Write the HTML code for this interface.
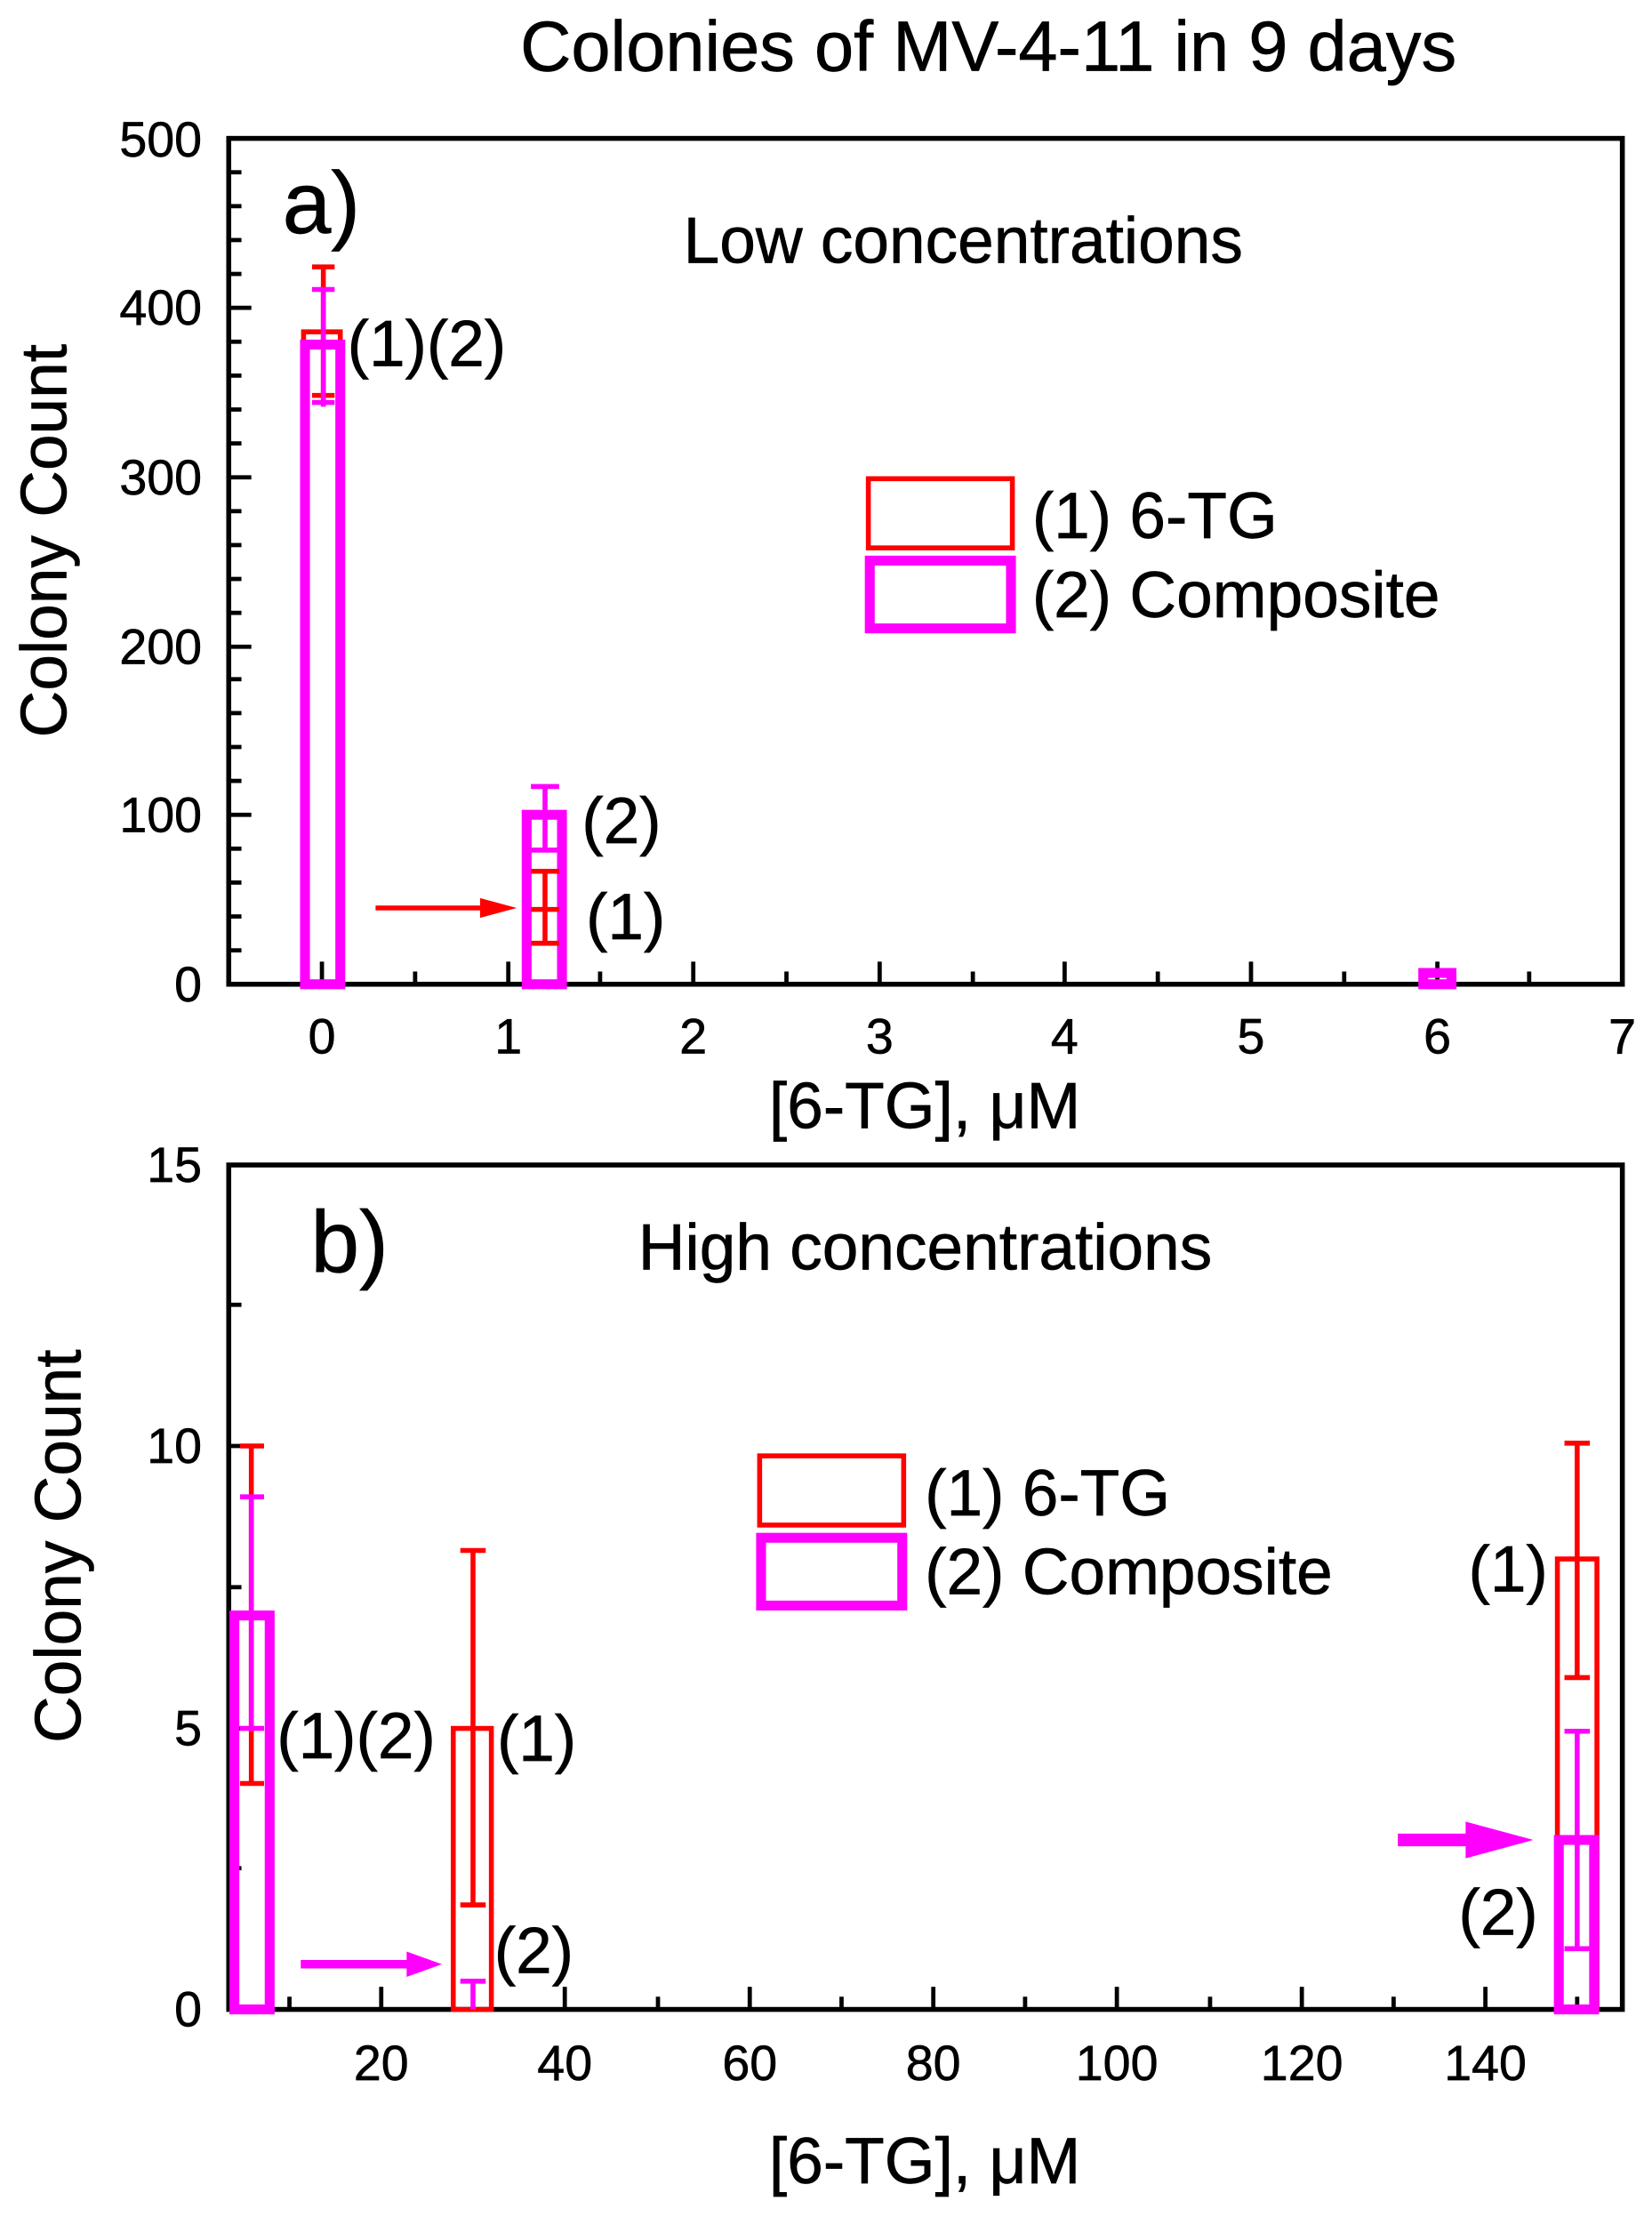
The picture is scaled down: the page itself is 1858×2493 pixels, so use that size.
<!DOCTYPE html>
<html><head><meta charset="utf-8"><style>html,body{margin:0;padding:0;background:#fff}svg{display:block}text{font-family:"Liberation Sans",Arial,sans-serif;fill:#000;stroke:#000;stroke-width:0.4}</style></head>
<body>
<svg width="1858" height="2493" viewBox="0 0 1170 1570" preserveAspectRatio="none" xmlns="http://www.w3.org/2000/svg">
<rect width="1170" height="1570" fill="#fff"/>
<text x="700" y="50" font-size="50" text-anchor="middle">Colonies of MV-4-11 in 9 days</text>

<!-- Panel a -->
<rect x="162" y="98" width="987" height="599" fill="none" stroke="#000" stroke-width="3.5"/>
<g stroke="#000" stroke-width="3">
<line x1="162" y1="697" x2="178" y2="697"/><line x1="162" y1="577" x2="178" y2="577"/><line x1="162" y1="458" x2="178" y2="458"/><line x1="162" y1="338" x2="178" y2="338"/><line x1="162" y1="218" x2="178" y2="218"/>
<line x1="162" y1="673" x2="171" y2="673"/><line x1="162" y1="649" x2="171" y2="649"/><line x1="162" y1="625" x2="171" y2="625"/><line x1="162" y1="601" x2="171" y2="601"/>
<line x1="162" y1="553" x2="171" y2="553"/><line x1="162" y1="529" x2="171" y2="529"/><line x1="162" y1="505" x2="171" y2="505"/><line x1="162" y1="481" x2="171" y2="481"/>
<line x1="162" y1="434" x2="171" y2="434"/><line x1="162" y1="410" x2="171" y2="410"/><line x1="162" y1="386" x2="171" y2="386"/><line x1="162" y1="362" x2="171" y2="362"/>
<line x1="162" y1="314" x2="171" y2="314"/><line x1="162" y1="290" x2="171" y2="290"/><line x1="162" y1="266" x2="171" y2="266"/><line x1="162" y1="242" x2="171" y2="242"/>
<line x1="162" y1="194" x2="171" y2="194"/><line x1="162" y1="170" x2="171" y2="170"/><line x1="162" y1="146" x2="171" y2="146"/><line x1="162" y1="122" x2="171" y2="122"/>
<line x1="228" y1="697" x2="228" y2="681"/><line x1="360" y1="697" x2="360" y2="681"/><line x1="491" y1="697" x2="491" y2="681"/><line x1="623" y1="697" x2="623" y2="681"/><line x1="754" y1="697" x2="754" y2="681"/><line x1="886" y1="697" x2="886" y2="681"/><line x1="1018" y1="697" x2="1018" y2="681"/>
<line x1="294" y1="697" x2="294" y2="688"/><line x1="425" y1="697" x2="425" y2="688"/><line x1="557" y1="697" x2="557" y2="688"/><line x1="689" y1="697" x2="689" y2="688"/><line x1="820" y1="697" x2="820" y2="688"/><line x1="952" y1="697" x2="952" y2="688"/><line x1="1083" y1="697" x2="1083" y2="688"/>
</g>
<g font-size="35" text-anchor="end">
<text x="143" y="709">0</text><text x="143" y="589">100</text><text x="143" y="470">200</text><text x="143" y="350">300</text><text x="143" y="230">400</text><text x="143" y="111">500</text>
</g>
<g font-size="35" text-anchor="middle">
<text x="228" y="746">0</text><text x="360" y="746">1</text><text x="491" y="746">2</text><text x="623" y="746">3</text><text x="754" y="746">4</text><text x="886" y="746">5</text><text x="1018" y="746">6</text><text x="1149" y="746">7</text>
</g>
<text x="655" y="799" font-size="46" text-anchor="middle">[6-TG], μM</text>
<text transform="translate(47,383) rotate(-90)" font-size="46" text-anchor="middle">Colony Count</text>
<text x="200" y="165" font-size="62">a)</text>
<text x="484" y="186" font-size="46">Low concentrations</text>

<g fill="none">
<rect x="215" y="235" width="26" height="462" stroke="#f00" stroke-width="3.5"/>
<rect x="216" y="244" width="25" height="453" stroke="#f0f" stroke-width="7"/>
<line x1="229" y1="189" x2="229" y2="285" stroke="#f00" stroke-width="3.5"/>
<line x1="221" y1="189" x2="237" y2="189" stroke="#f00" stroke-width="3.5"/>
<line x1="221" y1="280" x2="237" y2="280" stroke="#f00" stroke-width="3.5"/>
<line x1="229" y1="205" x2="229" y2="288" stroke="#f0f" stroke-width="3.5"/>
<line x1="221" y1="205" x2="237" y2="205" stroke="#f0f" stroke-width="3.5"/>
<line x1="221" y1="285" x2="237" y2="285" stroke="#f0f" stroke-width="3.5"/>

<rect x="373" y="577" width="25" height="120" stroke="#f0f" stroke-width="7"/>
<line x1="386" y1="617" x2="386" y2="668" stroke="#f00" stroke-width="3.5"/>
<line x1="376" y1="617" x2="396" y2="617" stroke="#f00" stroke-width="3.5"/>
<line x1="376" y1="644" x2="396" y2="644" stroke="#f00" stroke-width="3.5"/>
<line x1="376" y1="668" x2="396" y2="668" stroke="#f00" stroke-width="3.5"/>
<line x1="386" y1="557" x2="386" y2="603" stroke="#f0f" stroke-width="3.5"/>
<line x1="376" y1="557" x2="396" y2="557" stroke="#f0f" stroke-width="3.5"/>
<line x1="376" y1="602" x2="396" y2="602" stroke="#f0f" stroke-width="3.5"/>
<rect x="1008" y="689" width="20" height="8" stroke="#f0f" stroke-width="7"/>
</g>
<line x1="266" y1="643" x2="345" y2="643" stroke="#f00" stroke-width="3.5"/>
<polygon points="340,636 366,643 340,650" fill="#f00"/>
<g font-size="46">
<text x="246" y="259">(1)(2)</text>
<text x="412" y="597">(2)</text>
<text x="415" y="665">(1)</text>
</g>
<rect x="615" y="339" width="102" height="49" fill="none" stroke="#f00" stroke-width="3.5"/>
<rect x="616" y="397" width="100" height="48" fill="none" stroke="#f0f" stroke-width="7"/>
<text x="731" y="381" font-size="46">(1) 6-TG</text>
<text x="731" y="437" font-size="46">(2) Composite</text>

<!-- Panel b -->
<rect x="162" y="825" width="987" height="598" fill="none" stroke="#000" stroke-width="3.5"/>
<g stroke="#000" stroke-width="3">
<line x1="162" y1="1423" x2="178" y2="1423"/><line x1="162" y1="1224" x2="178" y2="1224"/><line x1="162" y1="1024" x2="178" y2="1024"/>
<line x1="162" y1="1323" x2="171" y2="1323"/><line x1="162" y1="1124" x2="171" y2="1124"/><line x1="162" y1="924" x2="171" y2="924"/>
<line x1="270" y1="1423" x2="270" y2="1407"/><line x1="400" y1="1423" x2="400" y2="1407"/><line x1="531" y1="1423" x2="531" y2="1407"/><line x1="661" y1="1423" x2="661" y2="1407"/><line x1="791" y1="1423" x2="791" y2="1407"/><line x1="922" y1="1423" x2="922" y2="1407"/><line x1="1052" y1="1423" x2="1052" y2="1407"/>
<line x1="205" y1="1423" x2="205" y2="1414"/><line x1="335" y1="1423" x2="335" y2="1414"/><line x1="466" y1="1423" x2="466" y2="1414"/><line x1="596" y1="1423" x2="596" y2="1414"/><line x1="726" y1="1423" x2="726" y2="1414"/><line x1="857" y1="1423" x2="857" y2="1414"/><line x1="987" y1="1423" x2="987" y2="1414"/><line x1="1117" y1="1423" x2="1117" y2="1414"/>
</g>
<g font-size="35" text-anchor="end">
<text x="143" y="1435">0</text><text x="143" y="1236">5</text><text x="143" y="1036">10</text><text x="143" y="837">15</text>
</g>
<g font-size="35" text-anchor="middle">
<text x="270" y="1473">20</text><text x="400" y="1473">40</text><text x="531" y="1473">60</text><text x="661" y="1473">80</text><text x="791" y="1473">100</text><text x="922" y="1473">120</text><text x="1052" y="1473">140</text>
</g>
<text x="655" y="1546" font-size="46" text-anchor="middle">[6-TG], μM</text>
<text transform="translate(57,1095) rotate(-90)" font-size="46" text-anchor="middle">Colony Count</text>
<text x="220" y="901" font-size="62">b)</text>
<text x="452" y="899" font-size="46">High concentrations</text>

<g fill="none">
<line x1="178" y1="1024" x2="178" y2="1263" stroke="#f00" stroke-width="3.5"/>
<line x1="170" y1="1024" x2="187" y2="1024" stroke="#f00" stroke-width="3.5"/>
<line x1="170" y1="1263" x2="187" y2="1263" stroke="#f00" stroke-width="3.5"/>
<rect x="166" y="1144" width="25" height="279" stroke="#f0f" stroke-width="7"/>
<line x1="178" y1="1060" x2="178" y2="1224" stroke="#f0f" stroke-width="3.5"/>
<line x1="170" y1="1060" x2="187" y2="1060" stroke="#f0f" stroke-width="3.5"/>
<line x1="170" y1="1224" x2="187" y2="1224" stroke="#f0f" stroke-width="3.5"/>

<rect x="321" y="1224" width="27" height="199" stroke="#f00" stroke-width="3.5"/>
<line x1="335" y1="1098" x2="335" y2="1349" stroke="#f00" stroke-width="3.5"/>
<line x1="326" y1="1098" x2="344" y2="1098" stroke="#f00" stroke-width="3.5"/>
<line x1="326" y1="1349" x2="344" y2="1349" stroke="#f00" stroke-width="3.5"/>
<line x1="326" y1="1403" x2="344" y2="1403" stroke="#f0f" stroke-width="3.5"/>
<line x1="335" y1="1403" x2="335" y2="1423" stroke="#f0f" stroke-width="3.5"/>

<rect x="1103" y="1104" width="28" height="319" stroke="#f00" stroke-width="3.5"/>
<line x1="1117" y1="1022" x2="1117" y2="1188" stroke="#f00" stroke-width="3.5"/>
<line x1="1108" y1="1022" x2="1126" y2="1022" stroke="#f00" stroke-width="3.5"/>
<line x1="1108" y1="1188" x2="1126" y2="1188" stroke="#f00" stroke-width="3.5"/>
<rect x="1104" y="1303" width="25" height="120" stroke="#f0f" stroke-width="7"/>
<line x1="1117" y1="1226" x2="1117" y2="1380" stroke="#f0f" stroke-width="3.5"/>
<line x1="1108" y1="1226" x2="1126" y2="1226" stroke="#f0f" stroke-width="3.5"/>
<line x1="1108" y1="1380" x2="1126" y2="1380" stroke="#f0f" stroke-width="3.5"/>
</g>
<line x1="213" y1="1391" x2="292" y2="1391" stroke="#f0f" stroke-width="6"/>
<polygon points="288,1382 313,1391 288,1400" fill="#f0f"/>
<line x1="990" y1="1303" x2="1045" y2="1303" stroke="#f0f" stroke-width="9"/>
<polygon points="1038,1290 1086,1303 1038,1316" fill="#f0f"/>
<g font-size="46">
<text x="196" y="1245">(1)(2)</text>
<text x="352" y="1247">(1)</text>
<text x="350" y="1397">(2)</text>
<text x="1040" y="1127">(1)</text>
<text x="1033" y="1370">(2)</text>
</g>
<rect x="538" y="1031" width="102" height="49" fill="none" stroke="#f00" stroke-width="3.5"/>
<rect x="539" y="1089" width="100" height="48" fill="none" stroke="#f0f" stroke-width="7"/>
<text x="655" y="1073" font-size="46">(1) 6-TG</text>
<text x="655" y="1129" font-size="46">(2) Composite</text>
</svg>
</body></html>
